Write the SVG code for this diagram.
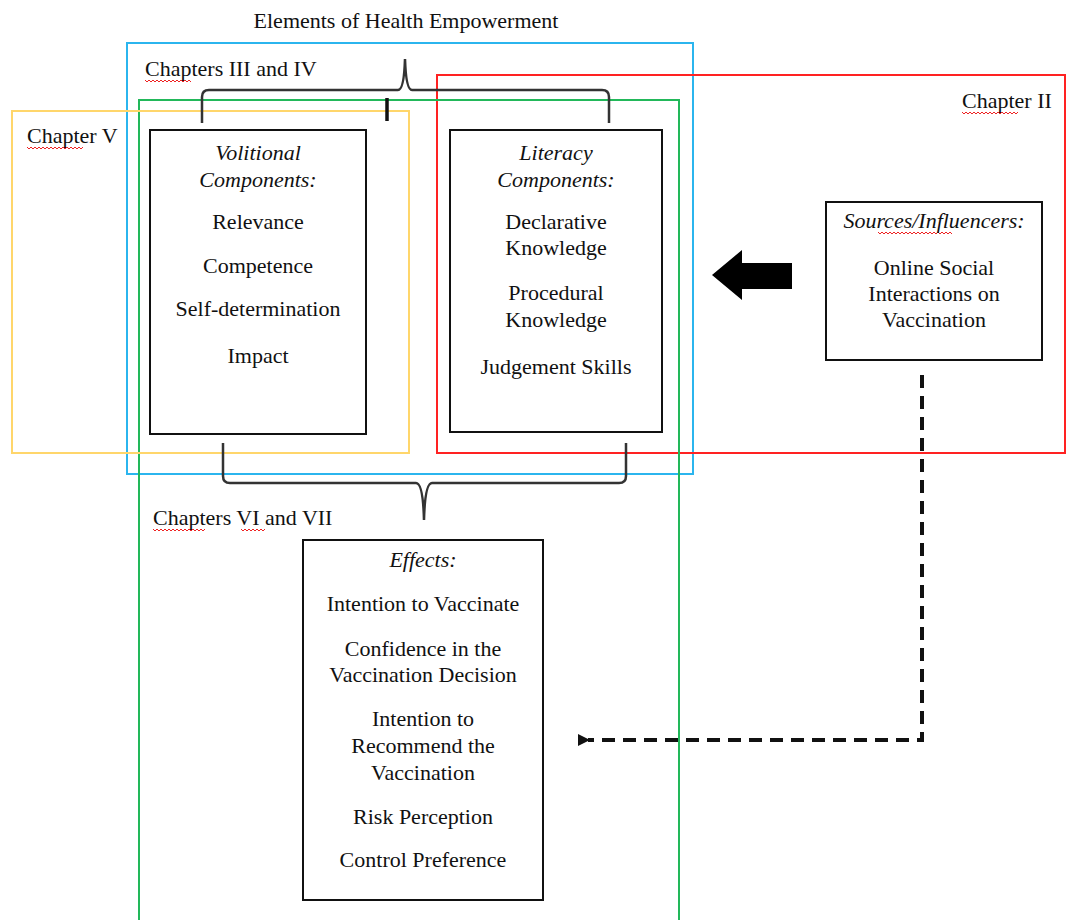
<svg xmlns="http://www.w3.org/2000/svg" width="1067" height="920" viewBox="0 0 1067 920" font-family="'Liberation Serif', 'Times New Roman', Times, serif">
<style>
text{font-family:'Liberation Serif','Times New Roman',Times,serif;font-size:22px;fill:#111;}
.c{text-anchor:middle;}
.i{font-style:italic;}
.box{fill:none;stroke:#111;stroke-width:2;}
.frame{fill:none;stroke-width:2;}
.brace{fill:none;stroke:#333;stroke-width:2.5;}
.sq{fill:none;stroke:#e22;stroke-width:1;}
</style>
<defs>
<marker id="ah" markerWidth="12" markerHeight="12" refX="2" refY="6" orient="auto" markerUnits="userSpaceOnUse">
<path d="M12,0 L0,6 L12,12 Z" fill="#111"/>
</marker>
</defs>
<text class="c" x="406" y="28">Elements of Health Empowerment</text>
<g id="frames">
<rect id="frame-ch3-4" class="frame" x="127" y="43" width="566" height="431" stroke="#2bb5ee"/>
<rect id="frame-ch2" class="frame" x="437" y="75" width="628" height="378" stroke="#f22"/>
<rect id="frame-ch6-7" class="frame" x="139" y="100" width="540" height="830" stroke="#22b85a"/>
<rect id="frame-ch5" class="frame" x="12" y="111" width="397" height="342" stroke="#ffd66b"/>
</g>
<text x="145" y="76">Chapters III and IV</text>
<text x="27" y="143">Chapter V</text>
<text x="962" y="108">Chapter II</text>
<text x="153" y="525">Chapters VI and VII</text>
<g id="squiggles">
<path class="sq" d="M145,80 l2,2 l2,-2 l2,2 l2,-2 l2,2 l2,-2 l2,2 l2,-2 l2,2 l2,-2 l2,2 l2,-2 l2,2 l2,-2 l2,2 l2,-2 l2,2 l2,-2 l2,2 l2,-2 l2,2 l2,-2 l2,2"/>
<path class="sq" d="M27,147 l2,2 l2,-2 l2,2 l2,-2 l2,2 l2,-2 l2,2 l2,-2 l2,2 l2,-2 l2,2 l2,-2 l2,2 l2,-2 l2,2 l2,-2 l2,2 l2,-2 l2,2 l2,-2 l2,2 l2,-2 l2,2 l2,-2 l2,2 l2,-2 l2,2 l2,-2"/>
<path class="sq" d="M962,112 l2,2 l2,-2 l2,2 l2,-2 l2,2 l2,-2 l2,2 l2,-2 l2,2 l2,-2 l2,2 l2,-2 l2,2 l2,-2 l2,2 l2,-2 l2,2 l2,-2 l2,2 l2,-2 l2,2 l2,-2 l2,2 l2,-2 l2,2 l2,-2 l2,2 l2,-2"/>
<path class="sq" d="M153,529 l2,2 l2,-2 l2,2 l2,-2 l2,2 l2,-2 l2,2 l2,-2 l2,2 l2,-2 l2,2 l2,-2 l2,2 l2,-2 l2,2 l2,-2 l2,2 l2,-2 l2,2 l2,-2 l2,2 l2,-2 l2,2 l2,-2 l2,2 l2,-2"/>
<path class="sq" d="M241,529 l2,2 l2,-2 l2,2 l2,-2 l2,2 l2,-2 l2,2 l2,-2 l2,2 l2,-2 l2,2 l2,-2"/>
<path class="sq" d="M878,232 l2,2 l2,-2 l2,2 l2,-2 l2,2 l2,-2 l2,2 l2,-2 l2,2 l2,-2 l2,2 l2,-2 l2,2 l2,-2 l2,2 l2,-2 l2,2 l2,-2 l2,2 l2,-2 l2,2 l2,-2 l2,2 l2,-2 l2,2 l2,-2 l2,2 l2,-2 l2,2 l2,-2 l2,2 l2,-2 l2,2 l2,-2 l2,2 l2,-2 l2,2"/>
</g>
<g id="connectors">
<path id="brace-top" class="brace" d="M202,123 L202,97 Q202,90 209,90 L398,90 Q404,90 405,59 Q406,90 412,90 L602,90 Q609,90 609,97 L609,123"/>
<line x1="387" y1="98" x2="387" y2="121" stroke="#111" stroke-width="3.5"/>
<path id="brace-bottom" class="brace" d="M223,443 L223,476 Q223,483 230,483 L416,483 Q423,483 424,520 Q425,483 432,483 L619,483 Q626,483 626,476 L626,443"/>
<path id="block-arrow" d="M712,275 L742,250 L742,263 L792,263 L792,289 L742,289 L742,300 Z" fill="#000"/>
<path id="dashed-arrow" d="M922,375 L922,740 L588,740" fill="none" stroke="#111" stroke-width="4" stroke-dasharray="13,8" marker-end="url(#ah)"/>
</g>
<g id="node-volitional">
<rect class="box" x="150" y="130" width="216" height="304"/>
<text class="c i" x="258" y="160">Volitional</text>
<text class="c i" x="258" y="187">Components:</text>
<text class="c" x="258" y="229">Relevance</text>
<text class="c" x="258" y="273">Competence</text>
<text class="c" x="258" y="316">Self-determination</text>
<text class="c" x="258" y="363">Impact</text>
</g>
<g id="node-literacy">
<rect class="box" x="450" y="130" width="212" height="302"/>
<text class="c i" x="556" y="160">Literacy</text>
<text class="c i" x="556" y="187">Components:</text>
<text class="c" x="556" y="229">Declarative</text>
<text class="c" x="556" y="255">Knowledge</text>
<text class="c" x="556" y="300">Procedural</text>
<text class="c" x="556" y="327">Knowledge</text>
<text class="c" x="556" y="374">Judgement Skills</text>
</g>
<g id="node-sources">
<rect class="box" x="826" y="202" width="216" height="158"/>
<text class="c i" x="934" y="228">Sources/Influencers:</text>
<text class="c" x="934" y="275">Online Social</text>
<text class="c" x="934" y="301">Interactions on</text>
<text class="c" x="934" y="327">Vaccination</text>
</g>
<g id="node-effects">
<rect class="box" x="303" y="540" width="240" height="360"/>
<text class="c i" x="423" y="567">Effects:</text>
<text class="c" x="423" y="611">Intention to Vaccinate</text>
<text class="c" x="423" y="656">Confidence in the</text>
<text class="c" x="423" y="682">Vaccination Decision</text>
<text class="c" x="423" y="726">Intention to</text>
<text class="c" x="423" y="753">Recommend the</text>
<text class="c" x="423" y="780">Vaccination</text>
<text class="c" x="423" y="824">Risk Perception</text>
<text class="c" x="423" y="867">Control Preference</text>
</g>
</svg>
